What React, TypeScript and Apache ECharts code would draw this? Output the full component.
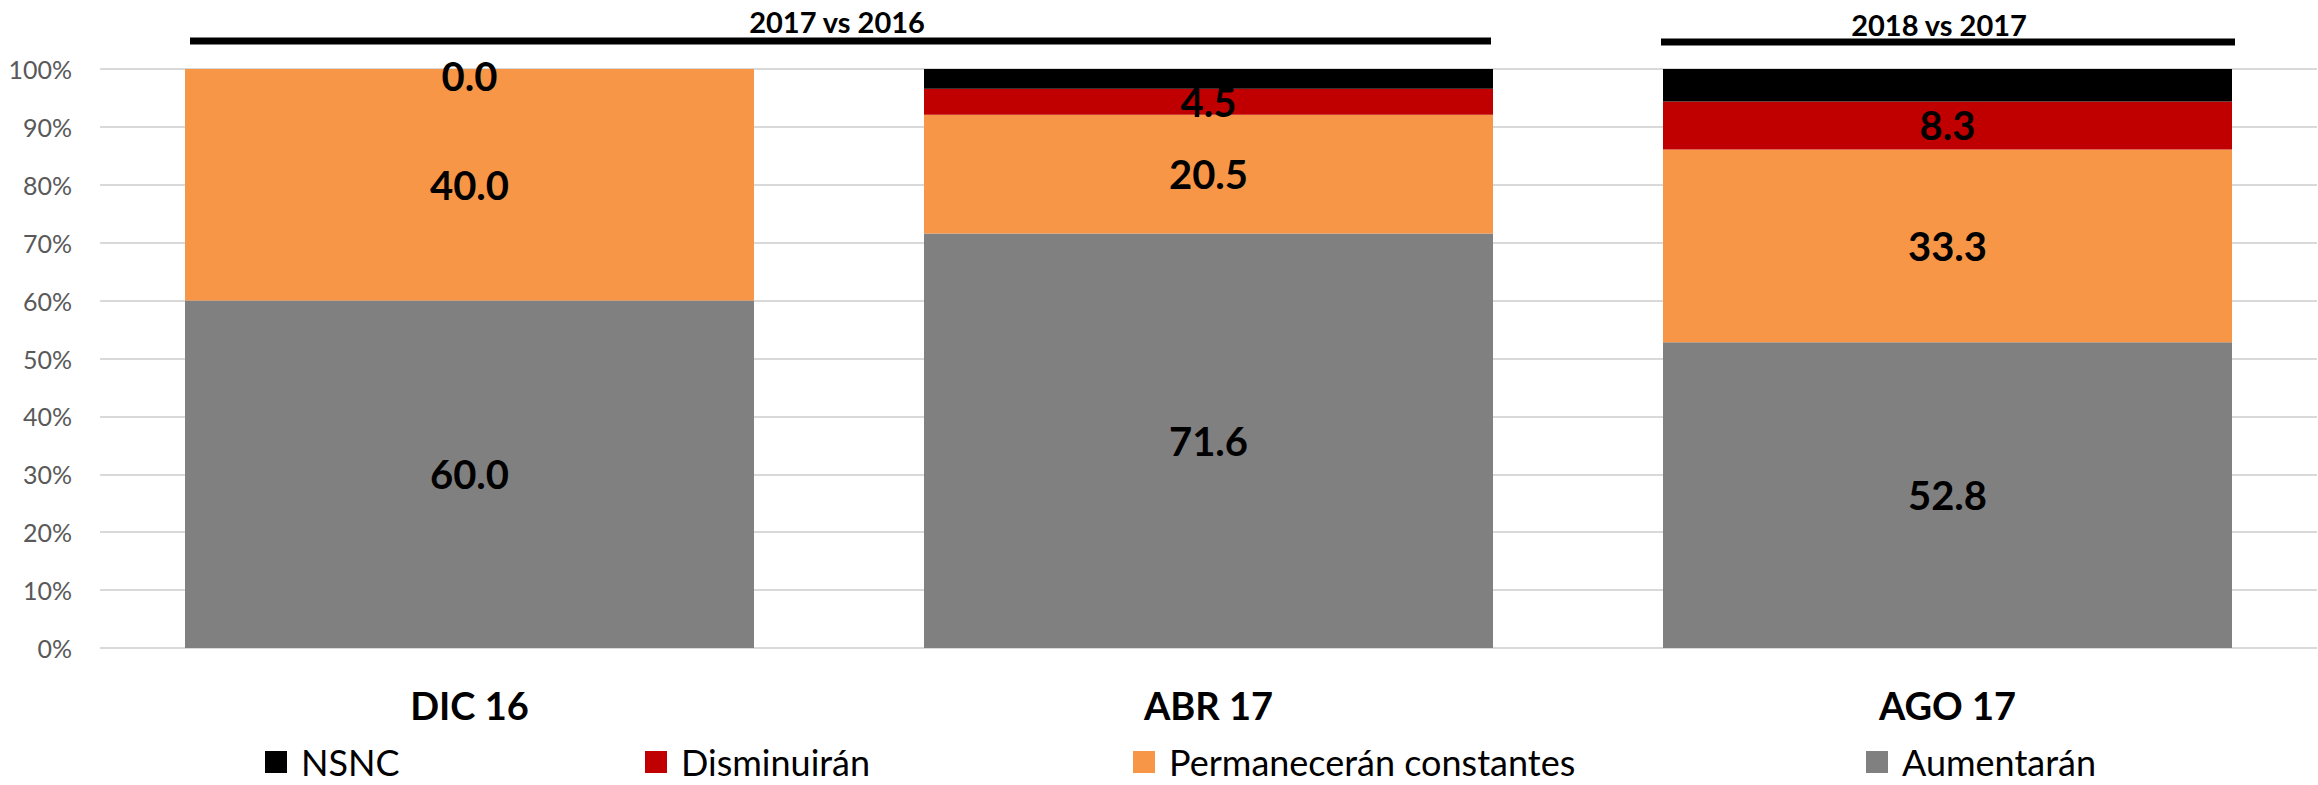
import React, { useEffect, useRef } from "react";
import * as echarts from "echarts";

const categories = ["DIC 16", "ABR 17", "AGO 17"];
const seriesNames = ["NSNC", "Disminuirán", "Permanecerán constantes", "Aumentarán"];
const aumentaran = [60.0, 71.6, 52.8];
const permaneceran = [40.0, 20.5, 33.3];
const disminuiran = [0.0, 4.5, 8.3];
const nsnc = [0.0, 3.4, 5.6];
const yTicks = { min: 0, max: 100, interval: 10 };
const periodLabels = ["2017 vs 2016", "2018 vs 2017"];

const COLORS: Record<string, string> = {
  NSNC: "#000000",
  "Disminuirán": "#C00000",
  "Permanecerán constantes": "#F79646",
  "Aumentarán": "#808080",
};

const FONT = "Lato, 'Open Sans', sans-serif";

export default function App() {
  const ref = useRef<HTMLDivElement>(null);
  useEffect(() => {
    if (!ref.current) return;
    const chart = echarts.init(ref.current, undefined, { renderer: "svg" });
    const labelBase = {
      show: true,
      position: "inside",
      color: "#000",
      fontSize: 40,
      fontWeight: "bold",
      fontFamily: FONT,
      formatter: (p: any) => Number(p.value).toFixed(1),
    };
    const mk = (name: string, data: number[], showLabel: boolean) => ({
      name,
      type: "bar",
      stack: "total",
      barWidth: 569,
      itemStyle: { color: COLORS[name] },
      label: showLabel ? labelBase : { show: false },
      data: data.map((v) =>
        showLabel && v === 0
          ? { value: v, label: { ...labelBase, offset: [0, 7] } }
          : v
      ),
    });
    const legendLefts = [265, 645, 1133, 1866];
    chart.setOption({
      animation: false,
      textStyle: { fontFamily: FONT },
      grid: { left: 100, right: 1, top: 69, bottom: 137 },
      xAxis: {
        type: "category",
        data: categories,
        axisLine: { show: false },
        axisTick: { show: false },
        axisLabel: {
          margin: 38,
          fontSize: 38,
          fontWeight: "bold",
          color: "#000",
          fontFamily: FONT,
        },
      },
      yAxis: {
        type: "value",
        min: yTicks.min,
        max: yTicks.max,
        interval: yTicks.interval,
        axisLine: { show: false },
        axisTick: { show: false },
        axisLabel: {
          formatter: "{value}%",
          margin: 28,
          fontSize: 25,
          color: "#595959",
          fontFamily: FONT,
        },
        splitLine: { lineStyle: { color: "#D9D9D9", width: 2 } },
      },
      legend: seriesNames.map((n, i) => ({
        data: [n],
        left: legendLefts[i],
        top: 743,
        padding: 0,
        itemWidth: 22,
        itemHeight: 22,
        icon: "rect",
        selectedMode: false,
        textStyle: {
          fontSize: 36,
          lineHeight: 38,
          color: "#000",
          fontFamily: FONT,
          padding: [0, 0, 0, 9],
        },
      })),
      graphic: [
        { type: "line", shape: { x1: 190, y1: 41, x2: 1491, y2: 41 }, style: { stroke: "#000", lineWidth: 7 } },
        { type: "line", shape: { x1: 1661, y1: 42, x2: 2235, y2: 42 }, style: { stroke: "#000", lineWidth: 7 } },
        {
          type: "text",
          x: 837,
          y: 21,
          style: {
            text: periodLabels[0],
            fontSize: 29,
            fontWeight: "bold",
            fontFamily: FONT,
            fill: "#000",
            textAlign: "center",
            textVerticalAlign: "middle",
          },
        },
        {
          type: "text",
          x: 1939,
          y: 24,
          style: {
            text: periodLabels[1],
            fontSize: 29,
            fontWeight: "bold",
            fontFamily: FONT,
            fill: "#000",
            textAlign: "center",
            textVerticalAlign: "middle",
          },
        },
      ],
      series: [
        mk("Aumentarán", aumentaran, true),
        mk("Permanecerán constantes", permaneceran, true),
        mk("Disminuirán", disminuiran, true),
        mk("NSNC", nsnc, false),
      ],
    });
    return () => chart.dispose();
  }, []);
  return (
    <div
      ref={ref}
      style={{ position: "fixed", left: 0, top: 0, width: 2318, height: 785, background: "#fff" }}
    />
  );
}
